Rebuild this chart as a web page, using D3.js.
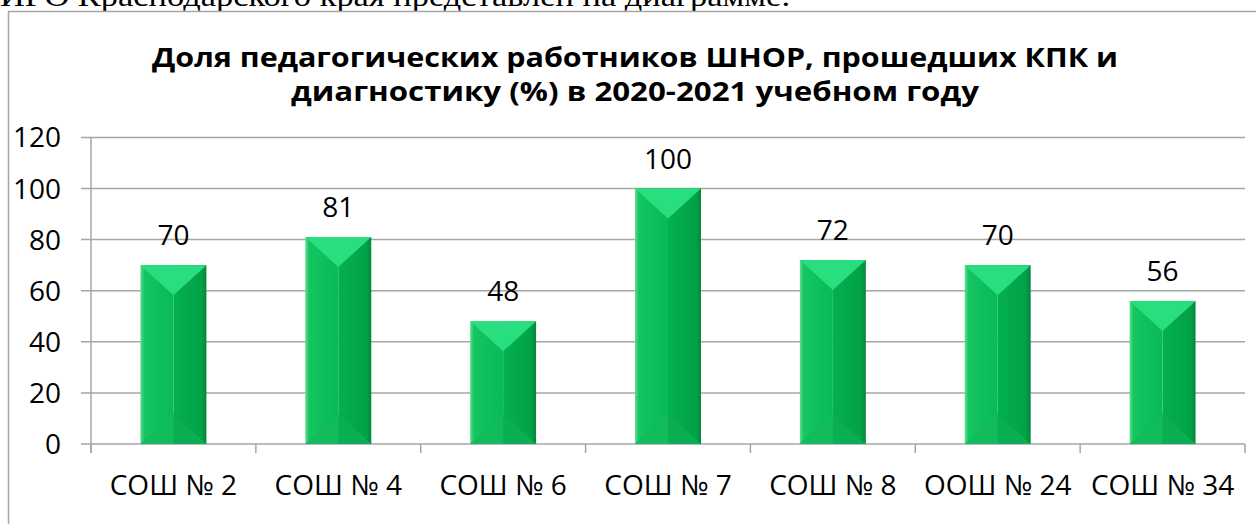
<!DOCTYPE html>
<html>
<head>
<meta charset="utf-8">
<script src="https://cdn.jsdelivr.net/npm/d3@7"></script>
<style>
  html, body { margin: 0; padding: 0; background: #fff; }
  svg { display: block; }
</style>
</head>
<body>
<div id="chart"></div>
<script>
var W = 1256, H = 524;

// data
var categories = ['СОШ № 2', 'СОШ № 4', 'СОШ № 6', 'СОШ № 7', 'СОШ № 8', 'ООШ № 24', 'СОШ № 34'];
var values = [70, 81, 48, 100, 72, 70, 56];
var yTicks = [0, 20, 40, 60, 80, 100, 120];
var titleLines = ['Доля педагогических работников ШНОР, прошедших КПК и',
                  'диагностику (%) в 2020-2021 учебном году'];
var pageText = 'ИРО Краснодарского края представлен на диаграмме.';

var plotLeft = 91, plotRight = 1245, plotTop = 137.4, plotBottom = 444;
var gridColor = '#a6a6a6';
var labelFont = '"Open Sans", sans-serif';

var svg = d3.select('#chart').append('svg')
  .attr('width', W)
  .attr('height', H);

// text of the document above the chart (cut off)
svg.append('text')
  .attr('x', 0)
  .attr('y', 6)
  .attr('font-family', '"Liberation Serif", "Times New Roman", serif')
  .attr('font-size', 30)
  .attr('textLength', 790)
  .attr('lengthAdjust', 'spacingAndGlyphs')
  .text(pageText);

// chart frame
svg.append('rect')
  .attr('x', 8.5)
  .attr('y', 11.5)
  .attr('width', W + 20)
  .attr('height', H + 20)
  .attr('fill', '#fff')
  .attr('stroke', gridColor)
  .attr('stroke-width', 1.5);

// title
svg.append('g').selectAll('text')
  .data(titleLines)
  .enter()
  .append('text')
  .attr('x', 635)
  .attr('y', function(d, i) { return 67 + i * 34; })
  .attr('text-anchor', 'middle')
  .attr('font-family', labelFont)
  .attr('font-weight', 'bold')
  .attr('font-size', 27)
  .attr('textLength', function(d, i) { return i == 0 ? 966 : 688; })
  .attr('lengthAdjust', 'spacingAndGlyphs')
  .text(function(d) { return d; });

var x = d3.scaleBand()
  .domain(categories)
  .range([plotLeft, plotRight])
  .paddingInner(0.6)
  .paddingOuter(0.3);

var y = d3.scaleLinear()
  .domain([0, 120])
  .range([plotBottom, plotTop]);

// gridlines + y ticks
var grid = svg.append('g');
grid.selectAll('line')
  .data(yTicks)
  .enter()
  .append('line')
  .attr('x1', plotLeft - 10)
  .attr('x2', plotRight)
  .attr('y1', function(d) { return y(d); })
  .attr('y2', function(d) { return y(d); })
  .attr('stroke', gridColor)
  .attr('stroke-width', 1.5);

grid.selectAll('text')
  .data(yTicks)
  .enter()
  .append('text')
  .attr('x', 61)
  .attr('y', function(d) { return y(d) + 10; })
  .attr('text-anchor', 'end')
  .attr('font-family', labelFont)
  .attr('font-size', 28)
  .attr('fill', '#000')
  .text(function(d) { return d; });

// y axis line
svg.append('line')
  .attr('x1', plotLeft).attr('x2', plotLeft)
  .attr('y1', plotTop).attr('y2', plotBottom + 9)
  .attr('stroke', gridColor)
  .attr('stroke-width', 1.5);

// x ticks on category boundaries
var bounds = d3.range(categories.length + 1).map(function(i) {
  return plotLeft + i * x.step();
});
svg.append('g').selectAll('line')
  .data(bounds)
  .enter()
  .append('line')
  .attr('x1', function(d) { return d; })
  .attr('x2', function(d) { return d; })
  .attr('y1', plotBottom)
  .attr('y2', plotBottom + 9)
  .attr('stroke', gridColor)
  .attr('stroke-width', 1.5);

// x labels
svg.append('g').selectAll('text')
  .data(categories)
  .enter()
  .append('text')
  .attr('x', function(d) { return x(d) + x.bandwidth() / 2; })
  .attr('y', 495)
  .attr('text-anchor', 'middle')
  .attr('font-family', labelFont)
  .attr('font-size', 28)
  .text(function(d) { return d; });

// gradients for bevelled bars
var defs = svg.append('defs');
var g1 = defs.append('linearGradient').attr('id', 'sideL').attr('x1', 0).attr('x2', 1).attr('y1', 0).attr('y2', 0);
g1.append('stop').attr('offset', 0).attr('stop-color', '#5fdc8e');
g1.append('stop').attr('offset', 0.12).attr('stop-color', '#14c561');
g1.append('stop').attr('offset', 1).attr('stop-color', '#08bb57');
var g2 = defs.append('linearGradient').attr('id', 'sideR').attr('x1', 0).attr('x2', 1).attr('y1', 0).attr('y2', 0);
g2.append('stop').attr('offset', 0).attr('stop-color', '#04b050');
g2.append('stop').attr('offset', 0.85).attr('stop-color', '#01a247');
g2.append('stop').attr('offset', 1).attr('stop-color', '#05863a');

var bev = 30;
var bars = svg.append('g').selectAll('g')
  .data(values)
  .enter()
  .append('g')
  .attr('transform', function(d, i) {
    return 'translate(' + x(categories[i]) + ',' + y(d) + ')';
  });

bars.each(function(d) {
  var g = d3.select(this);
  var bw = x.bandwidth();
  var bh = y(0) - y(d);
  var hw = bw / 2;
  var b = Math.min(bev, bh / 2);
  // left half
  g.append('rect').attr('x', 0).attr('y', 0).attr('width', hw).attr('height', bh).attr('fill', 'url(#sideL)');
  // right half
  g.append('rect').attr('x', hw).attr('y', 0).attr('width', hw).attr('height', bh).attr('fill', 'url(#sideR)');
  // top bevel
  g.append('path')
    .attr('d', 'M0,0L' + bw + ',0L' + hw + ',' + b + 'Z')
    .attr('fill', '#29de7e');
  // bottom bevel
  g.append('path')
    .attr('d', 'M0,' + bh + 'L' + bw + ',' + bh + 'L' + hw + ',' + (bh - b) + 'Z')
    .attr('fill', '#0aae53');
  g.append('path')
    .attr('d', 'M0,' + bh + 'L' + hw + ',' + (bh - b) + 'L' + hw + ',' + bh + 'Z')
    .attr('fill', '#12bb5c');
});

// data labels
svg.append('g').selectAll('text')
  .data(values)
  .enter()
  .append('text')
  .attr('x', function(d, i) { return x(categories[i]) + x.bandwidth() / 2; })
  .attr('y', function(d) { return y(d) - 20; })
  .attr('text-anchor', 'middle')
  .attr('font-family', labelFont)
  .attr('font-size', 28)
  .text(function(d) { return d; });
</script>
</body>
</html>
